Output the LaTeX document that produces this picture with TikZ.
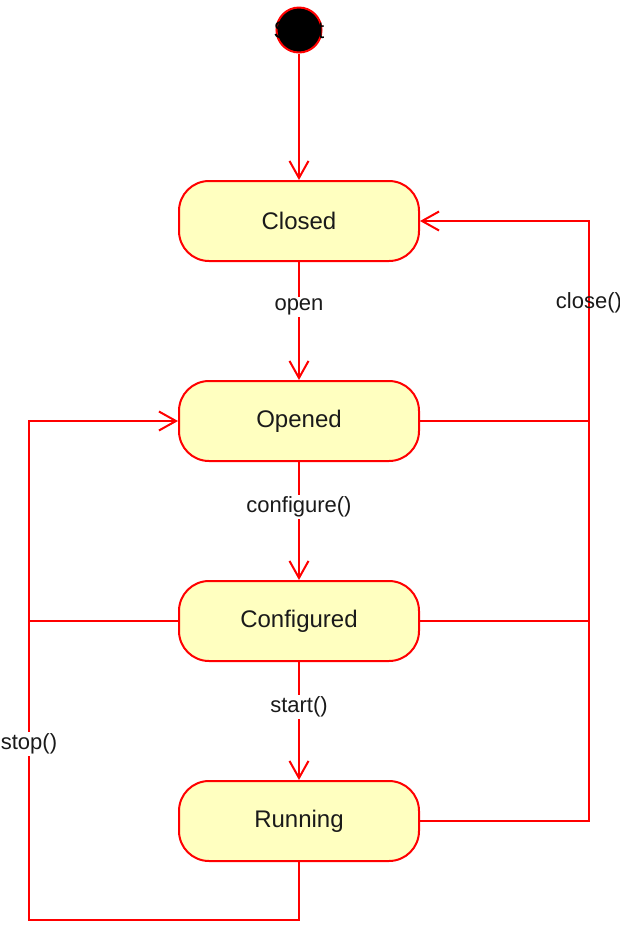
\documentclass[tikz,border=0pt]{standalone}
\usepackage{fontspec}
\setmainfont{Liberation Sans}
\usetikzlibrary{arrows.meta}

\definecolor{stline}{RGB}{255,0,0}
\definecolor{stfill}{RGB}{255,255,192}
\definecolor{sttext}{RGB}{26,26,26}

\begin{document}
\begin{tikzpicture}[x=0.5pt, y=-0.5pt,
    state/.style={draw=stline, fill=stfill, line width=1pt, rounded corners=15pt,
        minimum width=120pt, minimum height=40pt, inner sep=0pt,
        text=sttext, font=\fontsize{12}{14}\selectfont},
    initial/.style={circle, draw=stline, fill=black, line width=1pt,
        minimum size=22.5pt, inner sep=0pt},
    tr/.style={draw=stline, line width=1pt, -{Straight Barb[length=8.5pt, width=9.5pt]}},
    ln/.style={draw=stline, line width=1pt},
    lbl/.style={fill=white, inner sep=1pt, text=sttext, font=\fontsize{11}{13}\selectfont}]
   \useasboundingbox (0,0) rectangle (620,944);

   \node[initial] (start) at (299,30) {};
   \node[inner sep=0pt, font=\fontsize{12}{14}\selectfont] (starttxt) at (start) {Start};
   \node[state] (closed) at (299,221) {Closed};
   \node[state] (opened) at (299,421) {Opened};
   \node[state] (configured) at (299,621) {Configured};
   \node[state] (running) at (299,821) {Running};

   \coordinate (rbus) at (589,821);
   \coordinate (lbus) at (29,920);

   \draw[tr] (start) -- (closed);
   \draw[tr] (closed) -- node[lbl, pos=0.38] (openlbl) {open} (opened);
   \draw[tr] (opened) -- node[lbl, pos=0.38] (conflbl) {configure()} (configured);
   \draw[tr] (configured) -- node[lbl, pos=0.38] (startlbl) {start()} (running);

   % close() back to Closed
   \draw[tr] (running.east) -| (closed.east -| rbus) -- (closed.east);
   \draw[ln] (opened.east) -- (opened.east -| rbus);
   \draw[ln] (configured.east) -- (configured.east -| rbus);
   \node[text=sttext, inner sep=0pt, font=\fontsize{11}{13}\selectfont] (closelbl) at (589,303) {close()};

   % stop() back to Opened
   \draw[tr] (running.south) |- (lbus) |- (opened.west);
   \draw[ln] (configured.west) -- (configured.west -| lbus);
   \node[lbl] (stoplbl) at (29,744) {stop()};
\end{tikzpicture}
\end{document}
